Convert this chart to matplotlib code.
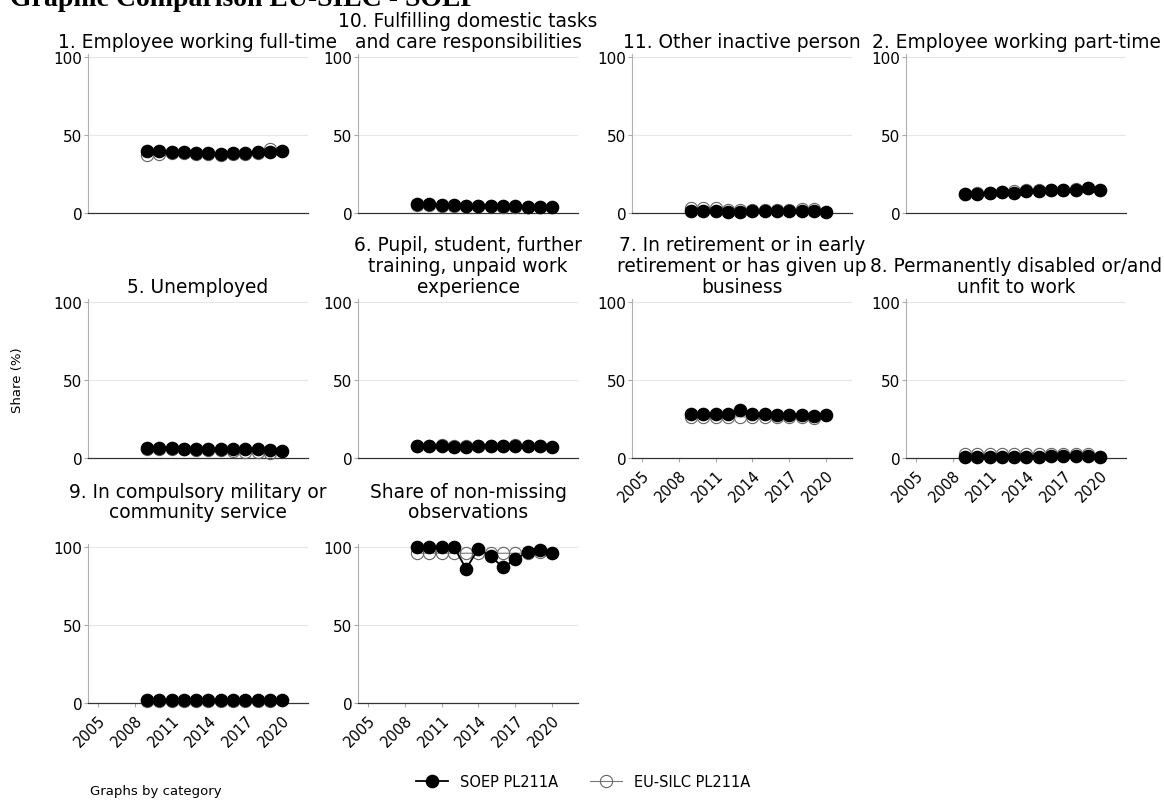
import matplotlib
matplotlib.use("Agg")
import matplotlib.pyplot as plt
from matplotlib.lines import Line2D

# Datos
years_soep = [2009, 2010, 2011, 2012, 2013, 2014, 2015, 2016, 2017, 2018, 2019, 2020]
years_silc = [2009, 2010, 2011, 2012, 2013, 2014, 2015, 2016, 2017, 2018, 2019]

titles = [
    "1. Employee working full-time",
    "10. Fulfilling domestic tasks\nand care responsibilities",
    "11. Other inactive person",
    "2. Employee working part-time",
    "5. Unemployed",
    "6. Pupil, student, further\ntraining, unpaid work\nexperience",
    "7. In retirement or in early\nretirement or has given up\nbusiness",
    "8. Permanently disabled or/and\nunfit to work",
    "9. In compulsory military or\ncommunity service",
    "Share of non-missing\nobservations",
]

full_time_soep = [39.5, 40.0, 39.0, 39.0, 38.5, 38.5, 38.0, 38.5, 38.5, 39.0, 39.0, 40.0]
full_time_silc = [37.5, 38.0, 38.5, 38.5, 38.0, 38.0, 37.5, 38.0, 38.0, 38.5, 41.0]

domestic_soep = [5.5, 5.8, 5.3, 5.0, 4.6, 4.6, 4.5, 4.3, 4.2, 4.0, 3.9, 4.1]
domestic_silc = [5.0, 5.0, 4.8, 4.6, 4.3, 4.3, 4.2, 4.0, 4.0, 3.8, 3.8]

inactive_soep = [1.2, 1.0, 1.0, 0.9, 0.9, 1.0, 1.0, 1.1, 1.1, 1.0, 1.0, 0.8]
inactive_silc = [3.2, 3.0, 3.2, 2.0, 2.0, 2.2, 2.2, 2.2, 2.2, 2.3, 2.3]

part_time_soep = [12.0, 12.5, 12.8, 13.5, 13.0, 13.8, 14.2, 14.5, 14.5, 15.0, 15.8, 15.0]
part_time_silc = [12.5, 13.0, 13.0, 13.5, 14.0, 14.5, 15.0, 15.0, 15.0, 15.5, 16.0]

unemployed_soep = [6.5, 6.3, 6.3, 6.0, 5.5, 5.6, 5.8, 5.8, 5.9, 5.5, 5.0, 4.8]
unemployed_silc = [6.0, 6.0, 6.0, 5.6, 5.4, 5.4, 5.0, 4.5, 4.0, 3.6, 3.4]

pupil_soep = [7.5, 7.5, 7.4, 7.2, 7.0, 7.5, 7.5, 7.6, 8.0, 7.6, 7.5, 6.8]
pupil_silc = [8.0, 8.0, 8.2, 8.0, 7.8, 7.8, 8.0, 8.0, 8.2, 8.0, 7.8]

retire_soep = [28.0, 28.0, 28.0, 28.0, 30.5, 28.0, 28.5, 27.5, 27.5, 27.5, 27.0, 27.5]
retire_silc = [26.0, 26.0, 26.0, 26.0, 26.5, 26.0, 26.5, 26.0, 26.0, 26.0, 25.5]

disabled_soep = [0.8, 0.8, 0.9, 0.9, 0.9, 0.9, 0.9, 1.0, 1.0, 1.0, 1.0, 0.8]
disabled_silc = [2.5, 2.5, 2.6, 2.6, 2.6, 2.6, 2.6, 2.8, 2.8, 2.8, 2.8]

military_soep = [2.0, 1.8, 1.8, 1.8, 1.8, 1.8, 1.7, 1.7, 1.7, 1.7, 1.7, 1.7]
military_silc = [1.5, 1.5, 1.5, 1.5, 1.5, 1.5, 1.5, 1.5, 1.5, 1.5, 1.5]

nonmissing_soep = [100, 100, 100, 100, 86, 99, 94, 87, 92, 97, 98, 96]
nonmissing_silc = [96, 96, 96, 96, 96, 96, 96, 96, 96, 96, 97]

soep_series = [full_time_soep, domestic_soep, inactive_soep, part_time_soep,
               unemployed_soep, pupil_soep, retire_soep, disabled_soep,
               military_soep, nonmissing_soep]
silc_series = [full_time_silc, domestic_silc, inactive_silc, part_time_silc,
               unemployed_silc, pupil_silc, retire_silc, disabled_silc,
               military_silc, nonmissing_silc]

x_ticks = [2005, 2008, 2011, 2014, 2017, 2020]

W, H = 1164, 803
fig = plt.figure(figsize=(W / 100, H / 100), dpi=100)

# posiciones de los paneles en pixeles
col_left = [88, 358, 632, 906]
col_width = 220
row_top100 = [58, 303, 548]
row_pad = [5, 5, 19]
px_per_100 = 156
ymax = 102

for i in range(10):
    r, c = divmod(i, 4)
    h = px_per_100 * ymax / 100
    y0 = row_top100[r] + px_per_100
    ax = fig.add_axes([col_left[c] / W, 1 - y0 / H, col_width / W, h / H])

    ax.plot(years_silc, silc_series[i], color="#777777", lw=0.8, marker="o",
            ms=8.8, mfc="none", mec="#666666", mew=0.8, clip_on=False, zorder=3)
    ax.plot(years_soep, soep_series[i], color="black", lw=1.3, marker="o",
            ms=8.8, mfc="black", mec="black", clip_on=False, zorder=4)

    ax.set_xlim(2004.2, 2022.1)
    ax.set_ylim(0, ymax)
    ax.set_yticks([0, 50, 100])
    ax.tick_params(axis="y", labelsize=11, length=3, color="#aaaaaa", pad=1)
    for yv in [50, 100]:
        ax.axhline(yv, color="#e6e6e6", lw=0.8, zorder=0)

    ax.spines["top"].set_visible(False)
    ax.spines["right"].set_visible(False)
    ax.spines["left"].set_color("#b0b0b0")
    ax.spines["left"].set_linewidth(0.8)
    ax.spines["bottom"].set_color("#333333")
    ax.spines["bottom"].set_linewidth(0.9)

    bottom_panel = (r == 2) or (r == 1 and c >= 2)
    ax.set_xticks(x_ticks)
    if bottom_panel:
        ax.set_xticklabels([str(t) for t in x_ticks], rotation=45,
                           ha="right", rotation_mode="anchor")
        ax.tick_params(axis="x", labelsize=10.5, length=3, color="#aaaaaa")
    else:
        ax.tick_params(axis="x", length=0, labelbottom=False)

    ax.set_title(titles[i], fontsize=13.4, pad=row_pad[r], linespacing=1.12)

fig.text(18 / W, 1 - 380 / H, "Share (%)", rotation=90, fontsize=9.5,
         ha="center", va="center")
fig.text(90 / W, 1 - 792 / H, "Graphs by category", fontsize=9.5,
         ha="left", va="center")
fig.text(10 / W, 1 - 6 / H, "Graphic Comparison EU-SILC - SOEP",
         fontsize=20, fontweight="bold", family="Liberation Serif",
         ha="left", va="baseline")

handles = [
    Line2D([], [], color="black", lw=1.3, marker="o", ms=8.8, mfc="black"),
    Line2D([], [], color="#777777", lw=0.8, marker="o", ms=8.8, mfc="none",
           mec="#666666", mew=0.8),
]
fig.legend(handles, ["SOEP PL211A", "EU-SILC PL211A"], loc="center",
           bbox_to_anchor=(583 / W, 1 - 783 / H), ncol=2, frameon=False,
           fontsize=10.5, handlelength=2.2, columnspacing=2.2)

fig.savefig("out.png", dpi=100)
